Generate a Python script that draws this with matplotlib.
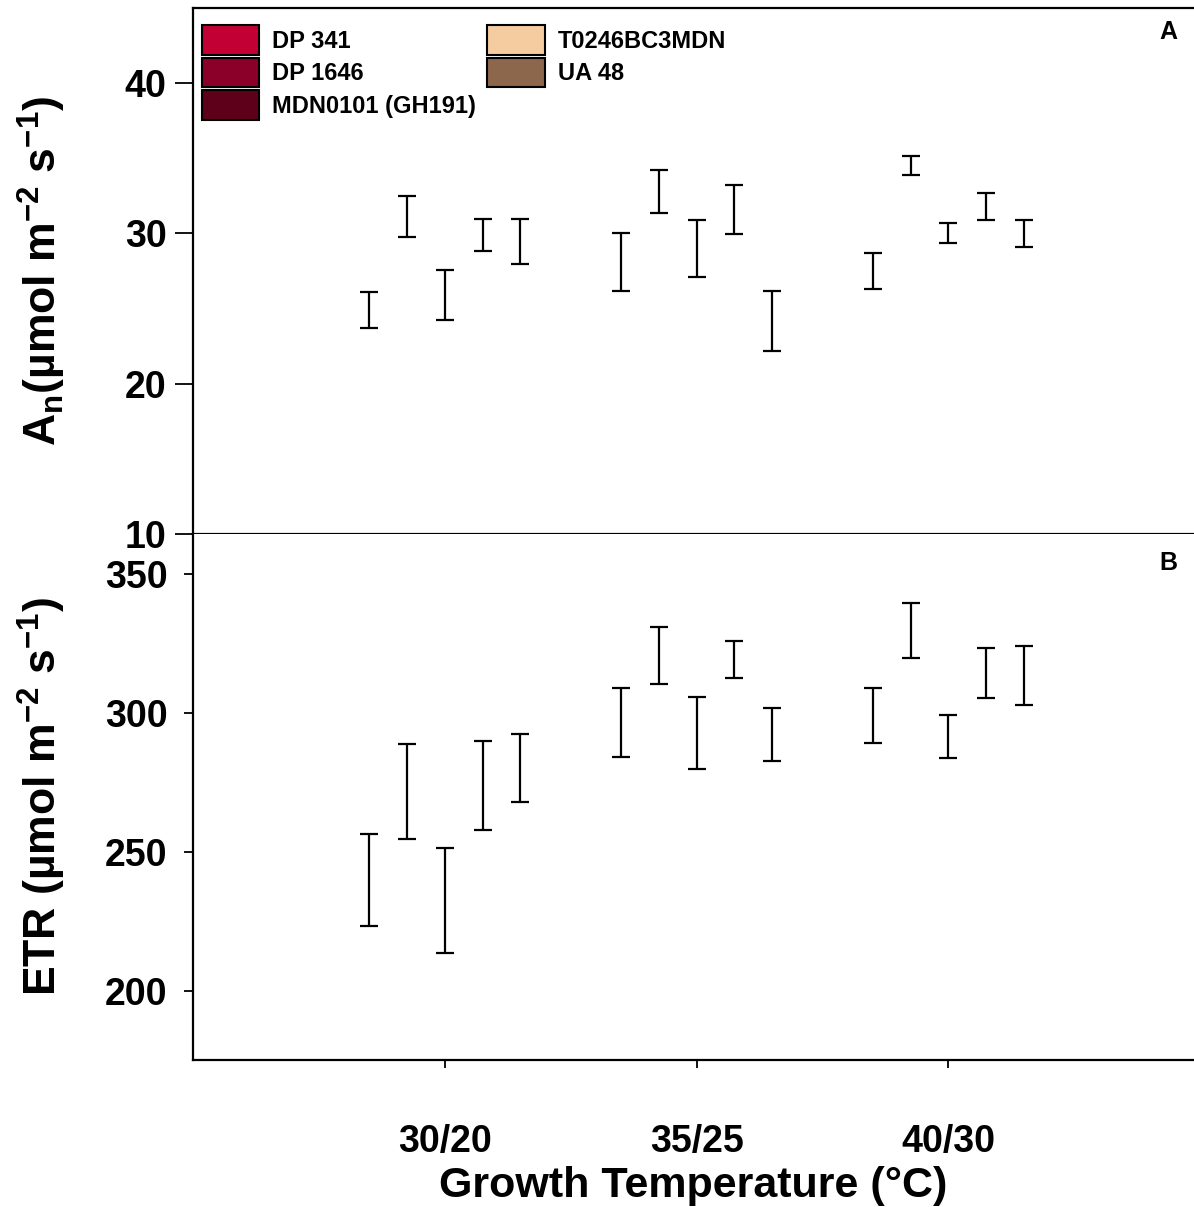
import numpy as np
import matplotlib
matplotlib.use('Agg')
import matplotlib.pyplot as plt
from matplotlib.patches import Patch

plt.rcParams['font.family'] = ['Liberation Sans', 'DejaVu Sans']
plt.rcParams['font.weight'] = 'bold'
plt.rcParams['mathtext.fontset'] = 'custom'
plt.rcParams['mathtext.rm'] = 'Liberation Sans:bold'
plt.rcParams['mathtext.it'] = 'Liberation Sans:bold'
plt.rcParams['mathtext.bf'] = 'Liberation Sans:bold'

cultivars = ['DP 341', 'DP 1646', 'MDN0101 (GH191)', 'T0246BC3MDN', 'UA 48']
colors = ['#C20033', '#8A0028', '#5E0019', '#F4CCA0', '#8C674B']
temps = ['30/20', '35/25', '40/30']

# rows = cultivar, columns = growth temperature
an_mean = [[24.9, 28.1, 27.5],
           [31.1, 32.8, 34.5],
           [25.9, 29.0, 30.05],
           [29.9, 31.6, 31.8],
           [29.45, 24.2, 30.0]]
an_err = [[1.2, 1.93, 1.2],
          [1.37, 1.43, 0.64],
          [1.69, 1.87, 0.67],
          [1.07, 1.63, 0.88],
          [1.5, 2.0, 0.9]]
etr_mean = [[239.9, 296.6, 299.0],
            [271.7, 320.8, 329.8],
            [232.5, 292.8, 291.6],
            [273.9, 319.3, 314.4],
            [280.2, 292.2, 313.5]]
etr_err = [[16.6, 12.5, 9.9],
           [17.0, 10.2, 9.9],
           [18.9, 12.8, 7.8],
           [15.9, 6.5, 9.0],
           [12.4, 9.5, 10.5]]

x = np.arange(1, len(temps) + 1)
w = 0.15
offs = (np.arange(len(cultivars)) - 2) * w

fig = plt.figure(figsize=(11.94, 12.07), dpi=100)
L = 193 / 1194
ax1 = fig.add_axes([L, 1 - 534 / 1207, 1 - L, 526 / 1207])
ax2 = fig.add_axes([L, 1 - 1060 / 1207, 1 - L, 526 / 1207])

for i in range(len(cultivars)):
    ax1.errorbar(x + offs[i], an_mean[i], yerr=an_err[i], fmt='none',
                 ecolor='black', elinewidth=1.6, capsize=6.4, capthick=1.6)
    ax2.errorbar(x + offs[i], etr_mean[i], yerr=etr_err[i], fmt='none',
                 ecolor='black', elinewidth=1.6, capsize=6.4, capthick=1.6)

for ax in (ax1, ax2):
    ax.set_xlim(0, 3.975)
    ax.spines['right'].set_visible(False)
    for s in ax.spines.values():
        s.set_linewidth(1.6)

ax1.set_ylim(10, 45)
ax1.set_yticks([10, 20, 30, 40])
ax1.set_xticks([])
ax1.tick_params(axis='y', length=13, width=1.3, pad=6, labelsize=27)
ax1.set_ylabel(r'A$_\mathrm{n}$(µmol m$^{\mathrm{-2}}$ s$^{\mathrm{-1}}$)',
               fontsize=32, fontweight='bold')
ax1.yaxis.set_label_coords(-0.125, 0.5)

ax2.set_ylim(175, 364.5)
ax2.set_yticks([200, 250, 300, 350])
ax2.spines['top'].set_visible(False)
ax2.set_xticks(x)
ax2.set_xticklabels(temps)
ax2.tick_params(axis='y', length=6.5, width=1.3, pad=12, labelsize=27)
ax2.tick_params(axis='x', length=6, width=1.3, pad=40, labelsize=27)
ax2.set_ylabel(r'ETR (µmol m$^{\mathrm{-2}}$ s$^{\mathrm{-1}}$)',
               fontsize=32, fontweight='bold')
ax2.yaxis.set_label_coords(-0.125, 0.5)
ax2.set_xlabel('Growth Temperature (°C)', fontsize=31, fontweight='bold',
               labelpad=4.5)

handles = [Patch(facecolor=c, edgecolor='black', linewidth=1.5) for c in colors]
ax1.legend(handles, cultivars, loc='upper left', bbox_to_anchor=(-0.002, 0.987),
           ncol=2, frameon=False, fontsize=17, handlelength=2.45,
           handleheight=1.55, labelspacing=0.12, handletextpad=0.55,
           columnspacing=0.45, borderpad=0.45, borderaxespad=0)

fig.text(1168 / 1194, 1 - 32 / 1207, 'A', fontsize=18, fontweight='bold',
         ha='center', va='center')
fig.text(1168 / 1194, 1 - 563 / 1207, 'B', fontsize=18, fontweight='bold',
         ha='center', va='center')

fig.savefig('out.png', dpi=100)
